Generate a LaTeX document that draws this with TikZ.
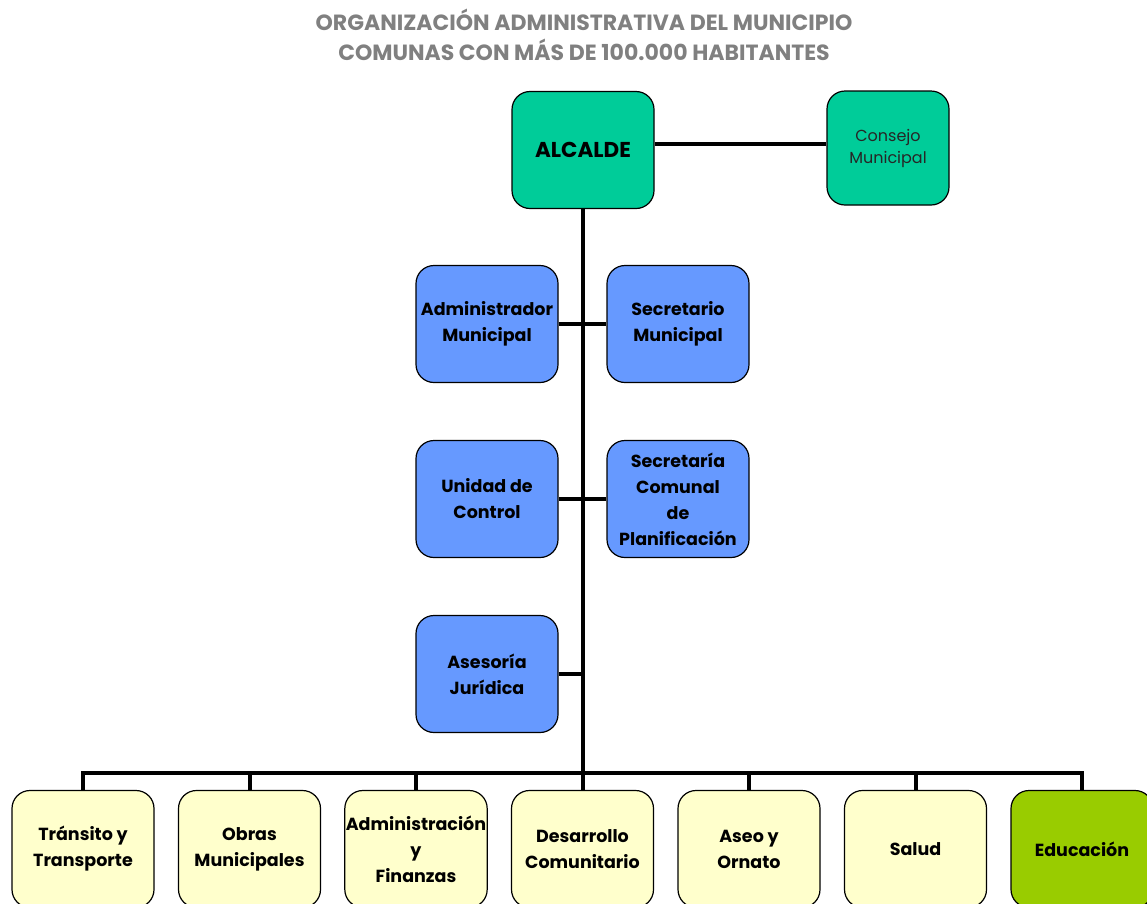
\documentclass[tikz,border=0pt]{standalone}
\usepackage{fontspec}
\setmainfont{Poppins}
\usetikzlibrary{positioning}
\definecolor{mint}{RGB}{0,204,153}
\definecolor{cornflower}{RGB}{102,153,255}
\definecolor{cream}{RGB}{255,255,204}
\definecolor{leaf}{RGB}{153,204,0}
\definecolor{slate}{RGB}{128,128,128}
\tikzset{
  unit/.style={draw=black,line width=1.2pt,fill=#1,rounded corners=18pt,
    minimum width=142pt,minimum height=117pt,inner sep=1pt,align=center,
    font=\fontsize{17.5}{26}\selectfont\bfseries},
  unit/.default=cornflower,
  link/.style={line width=4pt},
}

\begin{document}
\begin{tikzpicture}[x=1pt,y=-1pt]
  \useasboundingbox (0,0) rectangle (1147,903);
  \node[text=slate,align=center,font=\fontsize{22}{30}\selectfont\bfseries] (title) at (584,35)
    {ORGANIZACIÓN ADMINISTRATIVA DEL MUNICIPIO\\COMUNAS CON MÁS DE 100.000 HABITANTES};
  % top
  \node[unit=mint,font=\fontsize{21.5}{26}\selectfont\bfseries] (alc) at (583,150) {ALCALDE};
  \node[unit=mint,minimum width=122pt,minimum height=114pt,font=\fontsize{16}{22}\selectfont,text=black!85] (cons) at (888,148) {Consejo\\Municipal};
  % staff
  \node[unit] (adm) at (487,324) {Administrador\\Municipal};
  \node[unit] (secm) at (678,324) {Secretario\\Municipal};
  \node[unit] (uctl) at (487,499) {Unidad de\\Control};
  \node[unit] (secp) at (678,499) {Secretaría\\Comunal\\de\\Planificación};
  \node[unit] (ases) at (487,674) {Asesoría\\Jurídica};
  % units
  \coordinate (bus) at (583,773);
  \foreach \i/\t/\c in {1/{Tránsito y\\Transporte}/cream,2/{Obras\\Municipales}/cream,
      3/{Administración\\y\\Finanzas}/cream,4/{Desarrollo\\Comunitario}/cream,
      5/{Aseo y\\Ornato}/cream,6/{Salud}/cream,7/{Educación}/leaf}
    \node[unit=\c] (d\i) at (83+\i*166.5-166.5,849) {\t};
  \draw[link] (cons.west |- 0,144) -- (alc.east |- 0,144);
  \draw[link] (alc.south) -- (bus);
  \draw[link] (adm.east) -- (secm.west);
  \draw[link] (uctl.east) -- (secp.west);
  \draw[link] (ases.east) -- (ases.east -| bus);
  \foreach \i in {1,...,7} \draw[link] (d\i.north) |- (bus);
\end{tikzpicture}
\end{document}
